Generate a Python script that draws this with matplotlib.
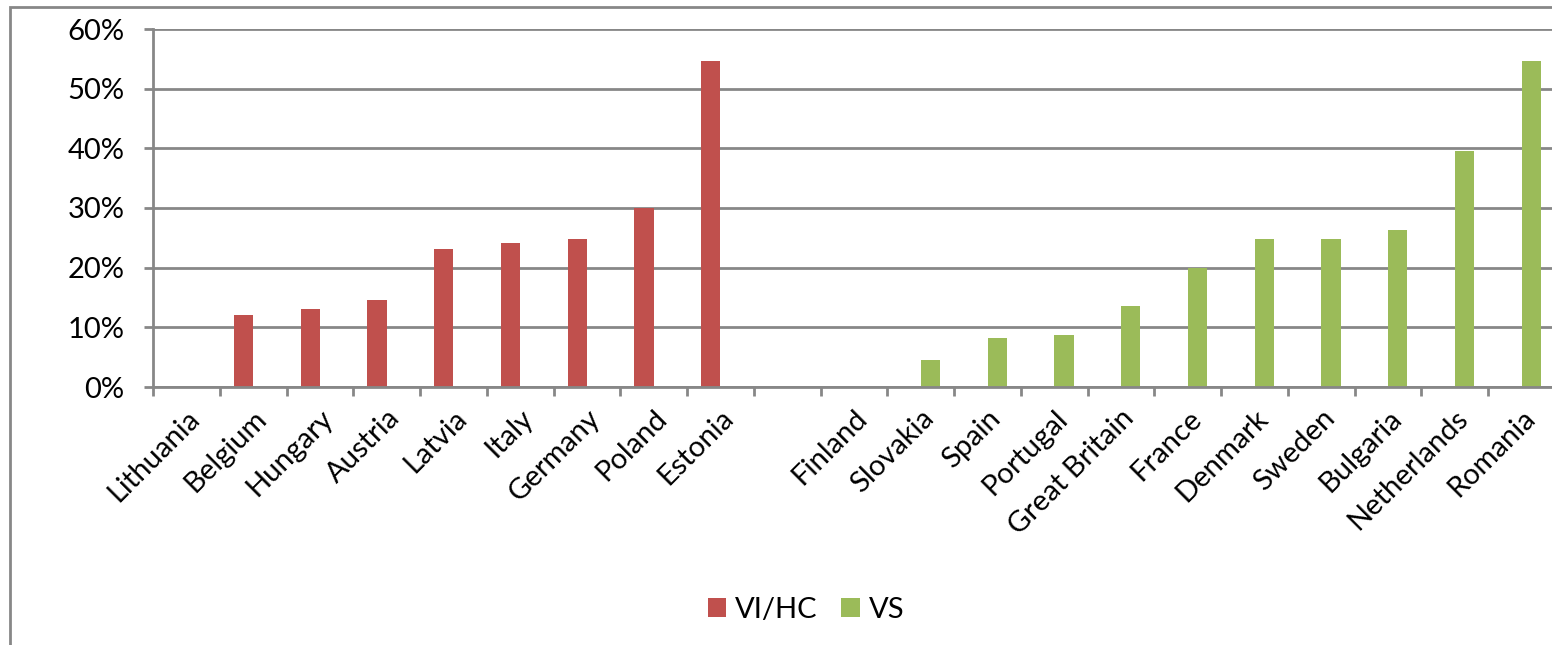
import numpy as np
import matplotlib
matplotlib.use("Agg")
import matplotlib.pyplot as plt
from matplotlib.patches import Rectangle
from matplotlib.ticker import FuncFormatter, FixedLocator

plt.rcParams['font.family'] = ['Lato', 'DejaVu Sans']

countries = ['Lithuania', 'Belgium', 'Hungary', 'Austria', 'Latvia', 'Italy',
             'Germany', 'Poland', 'Estonia', '',
             'Finland', 'Slovakia', 'Spain', 'Portugal', 'Great Britain',
             'France', 'Denmark', 'Sweden', 'Bulgaria', 'Netherlands', 'Romania']

vi_hc = [0.0, 0.120, 0.130, 0.146, 0.232, 0.242, 0.248, 0.300, 0.547, 0.0,
         0.0, 0.0, 0.0, 0.0, 0.0, 0.0, 0.0, 0.0, 0.0, 0.0, 0.0]
vs = [0.0, 0.0, 0.0, 0.0, 0.0, 0.0, 0.0, 0.0, 0.0, 0.0,
      0.0, 0.045, 0.082, 0.087, 0.135, 0.200, 0.248, 0.248, 0.263, 0.396, 0.547]

red = '#C0504D'
green = '#9BBB59'
grid_grey = '#878787'
fs = 21

W, H = 1552, 645
fig = plt.figure(figsize=(W / 100, H / 100), dpi=100)
ax = fig.add_axes([153 / W, 1 - 387 / H, 1402 / W, 358 / H])

x = np.arange(len(countries))
w = 0.29
ax.bar(x - w / 2, vi_hc, width=w, color=red, label='VI/HC', zorder=3)
ax.bar(x + w / 2, vs, width=w, color=green, label='VS', zorder=3)

ax.set_xlim(-0.5, len(countries) - 0.5)
ax.set_ylim(0, 0.6)
ax.set_yticks(np.arange(0, 0.61, 0.1))
ax.yaxis.set_major_formatter(FuncFormatter(lambda v, p: f'{v * 100:.0f}%'))
ax.grid(axis='y', color=grid_grey, linewidth=2, zorder=0)

# category labels at centres, tick marks at the boundaries
ax.set_xticks(x)
ax.set_xticklabels(countries, rotation=45, ha='right', rotation_mode='anchor')
ax.xaxis.set_minor_locator(FixedLocator(np.arange(-0.5, len(countries), 1.0)))
ax.tick_params(axis='x', which='major', length=0, pad=13, labelsize=fs)
ax.tick_params(axis='x', which='minor', length=6.5, width=2, color=grid_grey)
ax.tick_params(axis='y', length=6.5, width=2, color=grid_grey, pad=14, labelsize=fs)

for s in ['top', 'right']:
    ax.spines[s].set_visible(False)
for s in ['left', 'bottom']:
    ax.spines[s].set_color(grid_grey)
    ax.spines[s].set_linewidth(2)
ax.spines['bottom'].set_zorder(4)

leg = fig.legend(loc='center', bbox_to_anchor=(806 / W, 1 - 610 / H), ncol=2,
                 frameon=False, fontsize=fs, handlelength=0.65, handleheight=0.65,
                 handletextpad=0.3, columnspacing=0.8)

# outer chart frame
fig.patches.append(Rectangle((10 / W, -0.05), 1.1, 1 - 7 / H + 0.05,
                             transform=fig.transFigure, fill=False,
                             edgecolor=grid_grey, linewidth=2))

fig.savefig('out.png', dpi=100)
